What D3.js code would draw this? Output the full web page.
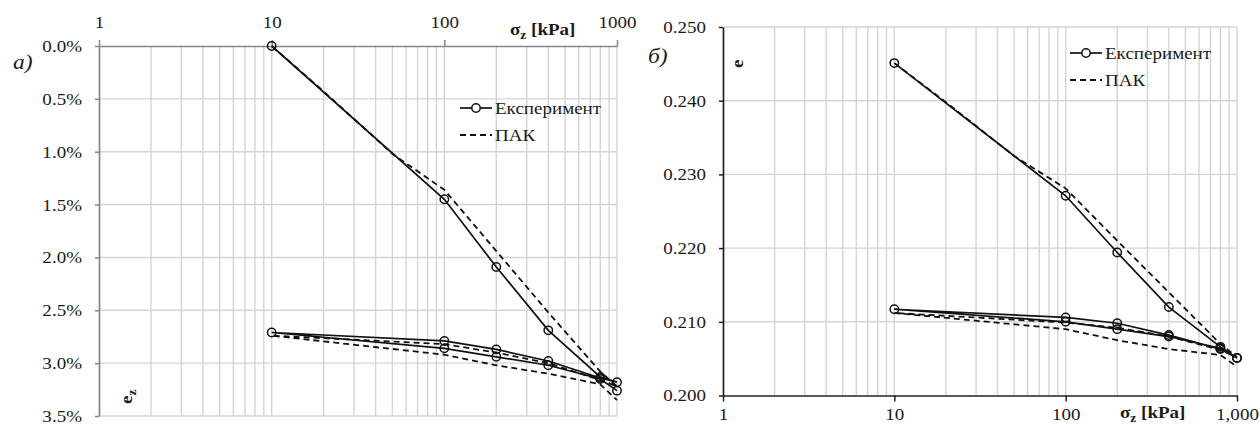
<!DOCTYPE html>
<html>
<head>
<meta charset="utf-8">
<script src="https://cdn.jsdelivr.net/npm/d3@7"></script>
<style>
  body { margin: 0; background: #fff; }
  svg { display: block; }
  text { font-family: "Liberation Serif", "Times New Roman", serif; fill: #1a1a1a; }
</style>
</head>
<body>
<svg id="chart" width="1260" height="425"></svg>
<script>
// stress steps, kPa (load - unload - reload)
const stressExp = [10, 100, 200, 400, 800, 1000, 800, 400, 200, 100, 10, 100, 200, 400, 800, 1000]
const strainExp = [0, 1.45, 2.09, 2.69, 3.13, 3.18, 3.14, 2.98, 2.87, 2.79, 2.71, 2.86, 2.94, 3.02, 3.15, 3.26]
const voidExp = [0.2451, 0.2271, 0.2194, 0.2120, 0.2066, 0.2051, 0.2063, 0.2082, 0.2098, 0.2106, 0.2117,
                 0.2100, 0.2090, 0.2080, 0.2064, 0.2051]

const stressPak = [10, 20, 50, 100, 200, 400, 800, 1000, 800, 400, 200, 100, 10, 100, 200, 400, 800, 1000]
const strainPak = [0, 0.43, 1.02, 1.36, 1.94, 2.52, 3.08, 3.22, 3.16, 3.00, 2.90, 2.82, 2.74, 2.92, 3.02, 3.10, 3.20, 3.35]
const voidPak = [0.2451, 0.2398, 0.2325, 0.2281, 0.2210, 0.2140, 0.2070, 0.2052, 0.2062, 0.2080, 0.2092, 0.2099, 0.2112,
                 0.2090, 0.2075, 0.2063, 0.2055, 0.2039]

const xTicks = [1, 10, 100, 1000]
const strainTicks = [0, 0.5, 1, 1.5, 2, 2.5, 3, 3.5]
const voidTicks = [0.20, 0.21, 0.22, 0.23, 0.24, 0.25]
const legendNames = ["Експеримент", "ПАК"]

const SX = 1.12   // source text is a bit wide
const svg = d3.select("#chart")

// minor log grid values 2..10 per decade
const gridX = []
for (let p = 1; p <= 100; p *= 10) for (let k = 2; k <= 10; k++) gridX.push(k * p)

function stretch(sel) {
    sel.each(function () {
        const t = d3.select(this)
        const x = +t.attr("x") || 0, y = +t.attr("y") || 0
        t.attr("x", 0).attr("y", 0)
            .attr("transform", "translate(" + x + "," + y + ") scale(" + SX + ",1)")
    })
}

function label(x, y, txt, opts) {
    const t = svg.append("text")
        .attr("transform", "translate(" + x + "," + y + ")" + (opts.rot ? " rotate(-90)" : "") + " scale(" + SX + ",1)")
        .style("font-size", (opts.size || 17) + "px")
        .style("font-weight", opts.bold ? "bold" : null)
        .style("font-style", opts.italic ? "italic" : null)
        .text(txt)
    if (opts.sub) t.append("tspan").attr("dy", 4).style("font-size", "12px").text(opts.sub)
    if (opts.tail) t.append("tspan").attr("dy", -4).text(opts.tail)
    return t
}

function drawPanel(x, y, yTicks, yFmt, axisColor, xOnTop, sx, sy, ey, legX, legY) {
    const g = svg.append("g")
    const [x0, x1] = x.range()
    const [ya, yb] = y.range()

    g.selectAll(".gx").data(gridX).enter().append("line")
        .attr("x1", d => x(d)).attr("x2", d => x(d))
        .attr("y1", Math.min(ya, yb)).attr("y2", Math.max(ya, yb))
        .attr("stroke", "#d4d4d4").attr("stroke-width", 1.4)
    g.selectAll(".gy").data(yTicks.slice(1)).enter().append("line")
        .attr("x1", x0).attr("x2", x1)
        .attr("y1", d => y(d)).attr("y2", d => y(d))
        .attr("stroke", "#d4d4d4").attr("stroke-width", 1.4)

    // x axis
    const xAxis = (xOnTop ? d3.axisTop(x) : d3.axisBottom(x))
        .tickValues(xTicks).tickSizeInner(6).tickSizeOuter(0)
        .tickPadding(xOnTop ? 12 : 6.5)
        .tickFormat(xOnTop ? d3.format("d") : d3.format(",d"))
    const ax = g.append("g")
        .attr("transform", "translate(0," + y(yTicks[0]) + ")")
        .call(xAxis)
    // y axis
    const yAxis = d3.axisLeft(y).tickValues(yTicks).tickSizeInner(4).tickSizeOuter(0)
        .tickPadding(13).tickFormat(yFmt)
    const ay = g.append("g").attr("transform", "translate(" + x0 + ",0)").call(yAxis)

    for (const a of [ax, ay]) {
        a.select(".domain").attr("stroke", axisColor).attr("stroke-width", 1.7)
        a.selectAll(".tick line").attr("stroke", axisColor).attr("stroke-width", 1.5)
        a.selectAll(".tick text").style("font-size", "17px")
            .style("font-family", "'Liberation Serif', serif").attr("fill", "#2a2a2a")
        stretch(a.selectAll(".tick text"))
    }

    const pts = sx.map((d, i) => [d, sy[i]])
    const ptsPak = stressPak.map((d, i) => [d, ey[i]])
    const line = d3.line().x(d => x(d[0])).y(d => y(d[1]))

    g.append("path").datum(ptsPak).attr("d", line)
        .attr("fill", "none").attr("stroke", "#111").attr("stroke-width", 1.8)
        .attr("stroke-dasharray", "6,4")
    g.append("path").datum(pts).attr("d", line)
        .attr("fill", "none").attr("stroke", "#111").attr("stroke-width", 1.7)
    g.selectAll(".mk").data(pts).enter().append("circle")
        .attr("cx", d => x(d[0])).attr("cy", d => y(d[1])).attr("r", 4.2)
        .attr("fill", "none").attr("stroke", "#111").attr("stroke-width", 1.5)

    // legend
    const lg = g.append("g").attr("transform", "translate(" + legX + "," + legY + ")")
    lg.append("line").attr("x1", 0).attr("x2", 32).attr("y1", 0).attr("y2", 0)
        .attr("stroke", "#111").attr("stroke-width", 1.7)
    lg.append("circle").attr("cx", 16).attr("cy", 0).attr("r", 4.2)
        .attr("fill", "#fff").attr("stroke", "#111").attr("stroke-width", 1.5)
    lg.append("line").attr("x1", 0).attr("x2", 32).attr("y1", 27).attr("y2", 27)
        .attr("stroke", "#111").attr("stroke-width", 1.8).attr("stroke-dasharray", "6,4")
    lg.selectAll("text").data(legendNames).enter().append("text")
        .attr("transform", (d, i) => "translate(35," + (i * 27 + 6) + ") scale(" + SX + ",1)")
        .style("font-size", "17px")
        .text(d => d)
}

// panel a) strain
const xL = d3.scaleLog().domain([1, 1000]).range([99, 617])
const yL = d3.scaleLinear().domain([0, 3.5]).range([46, 416])
drawPanel(xL, yL, strainTicks, d => d.toFixed(1) + "%", "#858585", true,
    stressExp, strainExp, strainPak, 460, 108)

// panel б) void ratio
const xR = d3.scaleLog().domain([1, 1000]).range([723, 1237])
const yR = d3.scaleLinear().domain([0.20, 0.25]).range([395.5, 27])
drawPanel(xR, yR, voidTicks, d3.format(".3f"), "#222", false,
    stressExp, voidExp, voidPak, 1070, 53)

label(13, 69, "a)", { italic: true, size: 21 })
label(648, 63, "б)", { italic: true, size: 21 })
label(510, 35, "σ", { bold: true, sub: "z", tail: " [kPa]" })
label(1120, 418, "σ", { bold: true, sub: "z", tail: " [kPa]" })
label(132, 404, "e", { bold: true, rot: true, sub: "z" })
label(743, 68, "e", { bold: true, rot: true })
</script>
</body>
</html>
